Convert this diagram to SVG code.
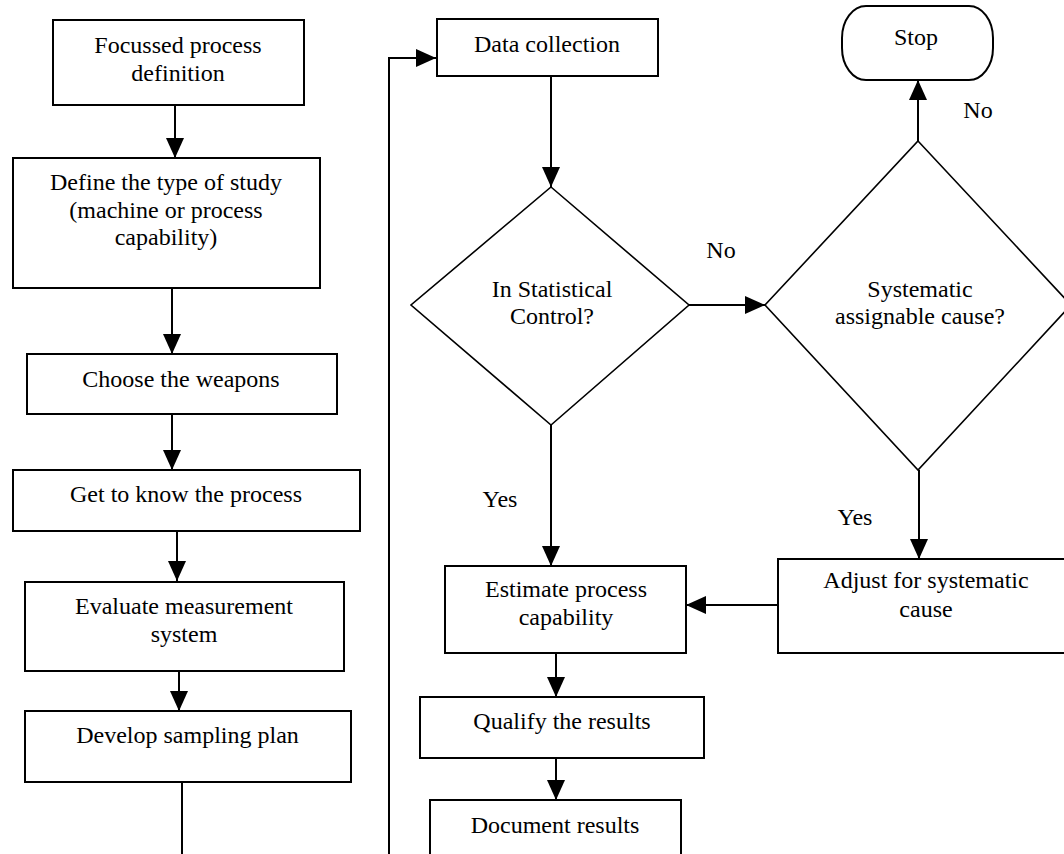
<svg xmlns="http://www.w3.org/2000/svg" width="1064" height="854" viewBox="0 0 1064 854">
<style>
.box{fill:#fff;stroke:#000;stroke-width:2}
.dia{fill:#fff;stroke:#000;stroke-width:1.6}
.ln{fill:none;stroke:#000;stroke-width:2}
text{font-family:"Liberation Serif","Times New Roman",serif;font-size:24px;fill:#000;text-anchor:middle}
</style>
<defs>
<marker id="ah" markerUnits="userSpaceOnUse" markerWidth="20" markerHeight="18" refX="20" refY="9" orient="auto" viewBox="0 0 20 18">
<path d="M0,0 L20,9 L0,18 z" fill="#000"/>
</marker>
</defs>
<rect width="1064" height="854" fill="#fff"/>
<g id="connectors">
<line class="ln" x1="175" y1="105" x2="175" y2="158" marker-end="url(#ah)"/>
<line class="ln" x1="172" y1="288" x2="172" y2="354" marker-end="url(#ah)"/>
<line class="ln" x1="172" y1="414" x2="172" y2="470" marker-end="url(#ah)"/>
<line class="ln" x1="177" y1="531" x2="177" y2="581" marker-end="url(#ah)"/>
<line class="ln" x1="179" y1="671" x2="179" y2="711" marker-end="url(#ah)"/>
<line class="ln" x1="182" y1="782" x2="182" y2="856"/>
<polyline class="ln" points="389,856 389,58 436,58" marker-end="url(#ah)"/>
<line class="ln" x1="551" y1="76" x2="551" y2="187" marker-end="url(#ah)"/>
<line class="ln" x1="689" y1="305" x2="765" y2="305" marker-end="url(#ah)"/>
<line class="ln" x1="918" y1="141" x2="918" y2="80" marker-end="url(#ah)"/>
<line class="ln" x1="551" y1="425" x2="551" y2="566" marker-end="url(#ah)"/>
<line class="ln" x1="919" y1="470" x2="919" y2="559" marker-end="url(#ah)"/>
<line class="ln" x1="778" y1="605" x2="686" y2="605" marker-end="url(#ah)"/>
<line class="ln" x1="556" y1="653" x2="556" y2="697" marker-end="url(#ah)"/>
<line class="ln" x1="556" y1="758" x2="556" y2="800" marker-end="url(#ah)"/>
<text x="721" y="258">No</text>
<text x="978" y="118">No</text>
<text x="500" y="507">Yes</text>
<text x="855" y="525">Yes</text>
</g>
<g id="focussed">
<rect class="box" x="53" y="20" width="251" height="85"/>
<text x="178" y="53">Focussed process</text>
<text x="178" y="81">definition</text>
</g>
<g id="define">
<rect class="box" x="13" y="158" width="307" height="130"/>
<text x="166" y="190">Define the type of study</text>
<text x="166" y="218">(machine or process</text>
<text x="166" y="245">capability)</text>
</g>
<g id="weapons">
<rect class="box" x="27" y="354" width="310" height="60"/>
<text x="181" y="387">Choose the weapons</text>
</g>
<g id="know">
<rect class="box" x="13" y="470" width="347" height="61"/>
<text x="186" y="502">Get to know the process</text>
</g>
<g id="evaluate">
<rect class="box" x="25" y="582" width="319" height="89"/>
<text x="184" y="614">Evaluate measurement</text>
<text x="184" y="642">system</text>
</g>
<g id="sampling">
<rect class="box" x="25" y="711" width="326" height="71"/>
<text x="187.5" y="743">Develop sampling plan</text>
</g>
<g id="data">
<rect class="box" x="437" y="19" width="221" height="57"/>
<text x="547" y="52">Data collection</text>
</g>
<g id="control">
<polygon class="dia" points="551,187 689,305 551,425 411,305"/>
<text x="552" y="297">In Statistical</text>
<text x="552" y="324">Control?</text>
</g>
<g id="systematic">
<polygon class="dia" points="918,141 1071,305 918,470 765,305"/>
<text x="920" y="297">Systematic</text>
<text x="920" y="324">assignable cause?</text>
</g>
<g id="stop">
<rect class="box" x="842" y="6" width="151" height="74" rx="24" ry="32"/>
<text x="916" y="45">Stop</text>
</g>
<g id="estimate">
<rect class="box" x="445" y="566" width="241" height="87"/>
<text x="566" y="597">Estimate process</text>
<text x="566" y="625">capability</text>
</g>
<g id="adjust">
<rect class="box" x="778" y="559" width="300" height="94"/>
<text x="926" y="588">Adjust for systematic</text>
<text x="926" y="617">cause</text>
</g>
<g id="qualify">
<rect class="box" x="420" y="697" width="284" height="61"/>
<text x="562" y="729">Qualify the results</text>
</g>
<g id="document">
<rect class="box" x="430" y="800" width="251" height="70"/>
<text x="555" y="833">Document results</text>
</g>
</svg>
